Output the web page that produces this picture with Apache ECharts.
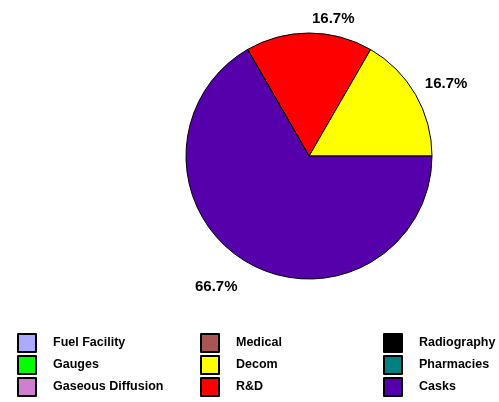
<!DOCTYPE html>
<html><head><meta charset="utf-8">
<script src="https://cdn.jsdelivr.net/npm/echarts@6/dist/echarts.min.js"></script>
<style>html,body{margin:0;padding:0;background:#fff}#c{width:499px;height:402px}</style>
</head><body><div id="c"></div>
<script>
const categories = ['Fuel Facility','Gauges','Gaseous Diffusion','Medical','Decom','R&D','Radiography','Pharmacies','Casks'];
const values = [0,0,0,0,1,1,0,0,4];
const colors = ['#aaaaff','#00ff00','#d07fd0','#a85555','#ffff00','#ff0000','#000000','#008080','#5500aa'];
const legendCol1 = ['Fuel Facility','Gauges','Gaseous Diffusion'];
const legendCol2 = ['Medical','Decom','R&D'];
const legendCol3 = ['Radiography','Pharmacies','Casks'];

// label nudges (styling only)
const labelNudge = {'Decom':[-13,-1], 'R&D':[-2,6], 'Casks':[5,7]};

const chart = echarts.init(document.getElementById('c'), null, {renderer:'canvas'});
const total = values.reduce((a,b)=>a+b,0);
const data = categories.map((n,i)=>({
  name:n, value:values[i],
  itemStyle:{color:colors[i]},
  label:{show: values[i] > 0}
}));
const legendBase = {
  orient:'vertical', icon:'rect', itemWidth:18, itemHeight:18, itemGap:2, padding:0,
  selectedMode:false,
  textStyle:{fontFamily:'Liberation Sans', fontWeight:'bold', fontSize:12.5, lineHeight:18, color:'#000', padding:[0,0,0,12]}
};
chart.setOption({
  animation:false,
  legend:[
    Object.assign({}, legendBase, {data:legendCol1, left:17, top:333}),
    Object.assign({}, legendBase, {data:legendCol2, left:200, top:333}),
    Object.assign({}, legendBase, {data:legendCol3, left:383, top:333})
  ],
  series:[{
    type:'pie', center:[309,156], radius:123,
    startAngle:0, clockwise:false,
    itemStyle:{borderColor:'#000', borderWidth:1},
    label:{position:'outside', fontFamily:'Liberation Sans', fontWeight:'bold', fontSize:15, color:'#000',
      formatter:p=>(p.value/total*100).toFixed(1)+'%'},
    labelLine:{show:false, length:20, length2:0},
    labelLayout:function(p){
      const n = labelNudge[categories[p.dataIndex]];
      return n ? {dx:n[0], dy:n[1]} : {};
    },
    emphasis:{disabled:true},
    data:data
  }]
});
</script></body></html>
